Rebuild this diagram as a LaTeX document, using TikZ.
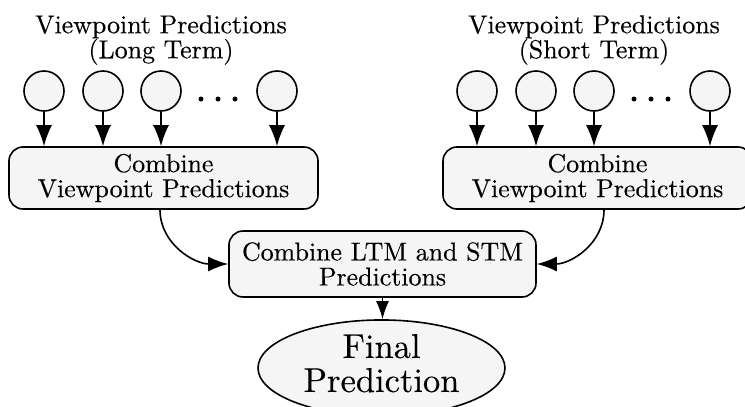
\documentclass[tikz,border=0pt]{standalone}
\usepackage{fontspec}
\setmainfont{lmroman10-regular.otf}[BoldFont=lmroman10-bold.otf,ItalicFont=lmroman10-italic.otf]
\newfontfamily\heavyrm{lmroman10-regular.otf}[FakeBold=0.3]
\usetikzlibrary{arrows.meta,calc,shapes.geometric}
\definecolor{boxfill}{gray}{0.96}
\begin{document}
\begin{tikzpicture}[x=1pt,y=-1pt,
  txt/.style={font=\heavyrm\fontsize{25.9}{25}\selectfont, align=center, inner sep=0pt},
  pred/.style={circle, draw, fill=boxfill, line width=1.6pt, minimum size=40pt, inner sep=0pt},
  dotc/.style={circle, fill=black, minimum size=5pt, inner sep=0pt},
  combbox/.style={txt, draw, fill=boxfill, rounded corners=14pt, line width=1.6pt},
  arr/.style={line width=1.6pt, -{Latex[length=21pt,width=16pt]}},
  curvarr/.style={line width=1.6pt, -{Latex[length=20pt,width=15pt]}},
  smallarr/.style={line width=1.6pt, -{Latex[length=18pt,width=13pt]}}]
\useasboundingbox (0,0) rectangle (745,407);
% titles
\node[txt] (ltitle) at (161,40) {Viewpoint Predictions\\(Long Term)};
\node[txt] (rtitle) at (594,40) {Viewpoint Predictions\\(Short Term)};
% prediction circles
\node[pred] (l1) at (44,91) {};
\node[pred] (l2) at (103,91) {};
\node[pred] (l3) at (161,91) {};
\node[pred] (l4) at (277,91) {};
\node[pred] (r1) at (477,91) {};
\node[pred] (r2) at (536,91) {};
\node[pred] (r3) at (594,91) {};
\node[pred] (r4) at (710,91) {};
% dots
\node[dotc] (ld1) at (201,99) {};
\node[dotc] (ld2) at (218,99) {};
\node[dotc] (ld3) at (235,99) {};
\node[dotc] (rd1) at (634,99) {};
\node[dotc] (rd2) at (651,99) {};
\node[dotc] (rd3) at (668,99) {};
% boxes
\node[combbox, minimum width=309pt, minimum height=62pt] (lbox) at (163.5,178) {Combine\\Viewpoint Predictions};
\node[combbox, minimum width=309pt, minimum height=62pt] (rbox) at (597.5,178) {Combine\\Viewpoint Predictions};
\node[combbox, minimum width=307pt, minimum height=66pt] (mbox) at (382.5,264) {Combine LTM and STM\\Predictions};
\node[ellipse, draw, fill=boxfill, line width=1.6pt, minimum width=247pt, minimum height=90pt, inner sep=0pt,
      font=\heavyrm\fontsize{34.5}{34}\selectfont, align=center] (final) at (381.5,368) {Final\\Prediction\rule[-10pt]{0pt}{0pt}};
% arrows from circles
\foreach \c in {l1,l2,l3,l4}{\draw[arr] (\c.south) -- (\c.south |- lbox.north);}
\foreach \c in {r1,r2,r3,r4}{\draw[arr] (\c.south) -- (\c.south |- rbox.north);}
% curved connectors
\draw[curvarr] ($(lbox.south)+(-3.5,0)$) .. controls +(0,34) and +(-34,0) .. (mbox.west);
\draw[curvarr] ($(rbox.south)+(6.5,0)$) .. controls +(0,34) and +(34,0) .. (mbox.east);
\draw[smallarr] (mbox.south) -- (mbox.south |- final.north);
\end{tikzpicture}
\end{document}
